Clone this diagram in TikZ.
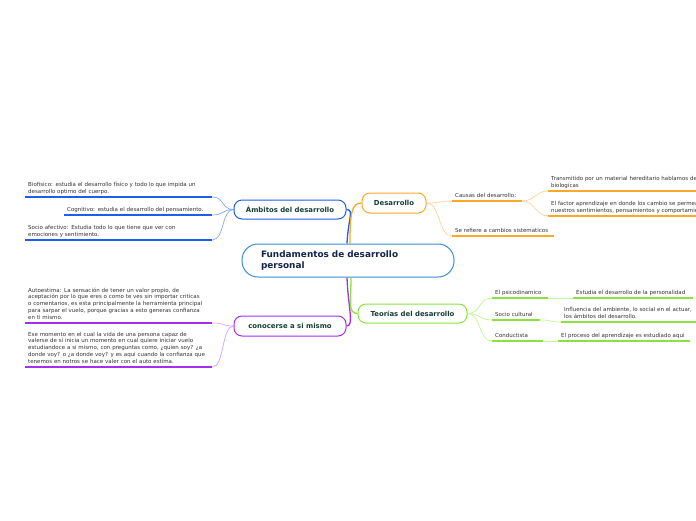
\documentclass[tikz,border=0pt]{standalone}
\usepackage{fontspec}
\setmainfont{DejaVu Sans}
\usepackage{tikz}
\usetikzlibrary{positioning,backgrounds}
\definecolor{mmblue}{RGB}{30,94,234}
\definecolor{mmbluel}{RGB}{130,168,255}
\definecolor{mmorange}{RGB}{250,168,40}
\definecolor{mmorangel}{RGB}{255,211,150}
\definecolor{mmpurple}{RGB}{164,48,238}
\definecolor{mmpurplel}{RGB}{214,160,255}
\definecolor{mmgreen}{RGB}{140,226,60}
\definecolor{mmgreenl}{RGB}{196,244,150}
\definecolor{mmcore}{RGB}{58,140,214}
\definecolor{mmnavy}{RGB}{20,36,74}
\definecolor{mmtext}{RGB}{20,62,52}
\definecolor{mmgray}{RGB}{50,50,50}
\tikzstyle{topic} = [draw, line width=1pt, rounded corners=8pt, fill=white, text=mmtext, font=\bfseries\fontsize{6.9}{8}\selectfont, inner sep=0pt]
\tikzstyle{leaf} = [anchor=south west, inner xsep=3pt, inner ysep=1.6pt, align=left, text=mmgray, font=\fontsize{5.5}{6.75}\selectfont, execute at end node=\strut]
\tikzstyle{uline} = [line width=1.4pt]
\tikzstyle{link} = [line width=0.7pt]
\tikzstyle{mainlink} = [line width=1.3pt]

\begin{document}
\begin{tikzpicture}[x=1pt,y=-1pt]
\useasboundingbox (0,0) rectangle (696,520);

% Central topic
\node[draw=mmcore, line width=1pt, rounded corners=16pt, fill=white, minimum width=212pt, minimum height=33pt, text width=174pt, inner xsep=19pt, align=left, text=mmnavy, font=\bfseries\fontsize{8.9}{11}\selectfont] (core) at (348,260.5) {Fundamentos de desarrollo\\personal};

% Main topics
\node[topic, draw=mmorange, minimum width=64pt, minimum height=20pt] (desarrollo) at (394,203) {Desarrollo};
\node[topic, draw=mmblue, minimum width=112pt, minimum height=19pt] (ambitos) at (290,209.5) {Ámbitos del desarrollo};
\node[topic, draw=mmpurple, minimum width=112pt, minimum height=20pt] (conocerse) at (290,326) {conocerse a si mismo};
\node[topic, draw=mmgreen, minimum width=109pt, minimum height=19pt] (teorias) at (412.5,313.5) {Teorías del desarrollo};

% Desarrollo branch
\node[leaf, text width=64pt] (causas) at (452,201) {Causas del desarrollo:};
\node[leaf, text width=96pt] (serefiere) at (452,236) {Se refiere a cambios sistematicos};
\node[leaf, text width=170pt] (transmitido) at (548,191) {Transmitido por un material hereditario hablamos de\\biologicas};
\node[leaf, text width=170pt] (factor) at (548,216) {El factor aprendizaje en donde los cambio se permea\\nuestros sentimientos, pensamientos y comportamie};

% Teorias branch
\node[leaf, text width=50pt] (psico) at (492,298) {El psicodinamico};
\node[leaf, text width=42pt] (sociocult) at (492,320) {Socio cultural};
\node[leaf, text width=45pt] (conduct) at (492,341) {Conductista};
\node[leaf, text width=114pt] (estudia) at (573,298) {Estudia el desarrollo de la personalidad};
\node[leaf, text width=131pt] (influencia) at (561,322) {Influencia del ambiente, lo social en el actuar,\\los ámbitos del desarrollo.};
\node[leaf, text width=126pt] (proceso) at (558,341) {El proceso del aprendizaje es estudiado aqui};

% Ambitos branch
\node[leaf, text width=181pt] (biofisico) at (25,197) {Biofisico: estudia el desarrollo físico y todo lo que impida un\\desarrollo optimo del cuerpo.};
\node[leaf, text width=142pt] (cognitivo) at (64,215) {Cognitivo: estudia el desarrollo del pensamiento.};
\node[leaf, text width=181pt] (socioaf) at (25,240) {Socio afectivo: Estudia todo lo que tiene que ver con\\emociones y sentimiento.};

% Conocerse branch
\node[leaf, text width=181pt] (autoestima) at (25,323) {Autoestima: La sensación de tener un valor propio, de\\aceptación por lo que eres o como te ves sin importar criticas\\o comentarios, es esta principalmente la herramienta principal\\para sarpar el vuelo, porque gracias a esto generas confianza\\en ti mismo.};
\node[leaf, text width=181pt] (momento) at (25,367) {Ese momento en el cual la vida de una persona capaz de\\valerse de si inicia un momento en cual quiere iniciar vuelo\\estudiandoce a si mismo, con preguntas como, ¿quien soy? ¿a\\donde voy? o ¿a donde voy? y es aqui cuando la confianza que\\tenemos en notros se hace valer con el auto estima.};

\begin{scope}[on background layer]
% Core to main topics
\draw[mainlink, mmblue] ([xshift=-1pt]core.north) .. controls +(1,-24) and +(8,0) .. (ambitos.east);
\draw[mainlink, mmorange] ([xshift=2pt]core.north) .. controls +(0,-30) and +(-10,0) .. (desarrollo.west);
\draw[mainlink, mmpurple] ([xshift=-1pt]core.south) .. controls +(1,30) and +(8,0) .. (conocerse.east);
\draw[mainlink, mmgreen] ([xshift=3pt]core.south) .. controls +(0,24) and +(-10,0) .. (teorias.west);

% Underlines
\foreach \n in {causas,serefiere,transmitido,factor}
  \draw[uline, mmorange] (\n.south west) -- (\n.south east);
\foreach \n in {psico,sociocult,conduct,estudia,influencia,proceso}
  \draw[uline, mmgreen] (\n.south west) -- (\n.south east);
\foreach \n in {biofisico,cognitivo,socioaf}
  \draw[uline, mmblue] (\n.south west) -- (\n.south east);
\foreach \n in {autoestima,momento}
  \draw[uline, mmpurple] (\n.south west) -- (\n.south east);

% Branch links
\foreach \n in {causas,serefiere}
  \draw[link, mmorangel] (desarrollo.east) .. controls +(14,0) and +(-14,0) .. (\n.south west);
\foreach \n in {transmitido,factor}
  \draw[link, mmorangel] (causas.south east) .. controls +(12,0) and +(-12,0) .. (\n.south west);
\foreach \n in {psico,sociocult,conduct}
  \draw[link, mmgreenl] (teorias.east) .. controls +(14,0) and +(-14,0) .. (\n.south west);
\draw[link, mmgreenl] (psico.south east) -- (estudia.south west);
\draw[link, mmgreenl] (sociocult.south east) .. controls +(12,0) and +(-12,0) .. (influencia.south west);
\draw[link, mmgreenl] (conduct.south east) -- (proceso.south west);
\foreach \n in {biofisico,cognitivo,socioaf}
  \draw[link, mmbluel] (\n.south east) .. controls +(12,0) and +(-12,0) .. (ambitos.west);
\foreach \n in {autoestima,momento}
  \draw[link, mmpurplel] (\n.south east) .. controls +(12,0) and +(-12,0) .. (conocerse.west);
\end{scope}
\end{tikzpicture}
\end{document}
